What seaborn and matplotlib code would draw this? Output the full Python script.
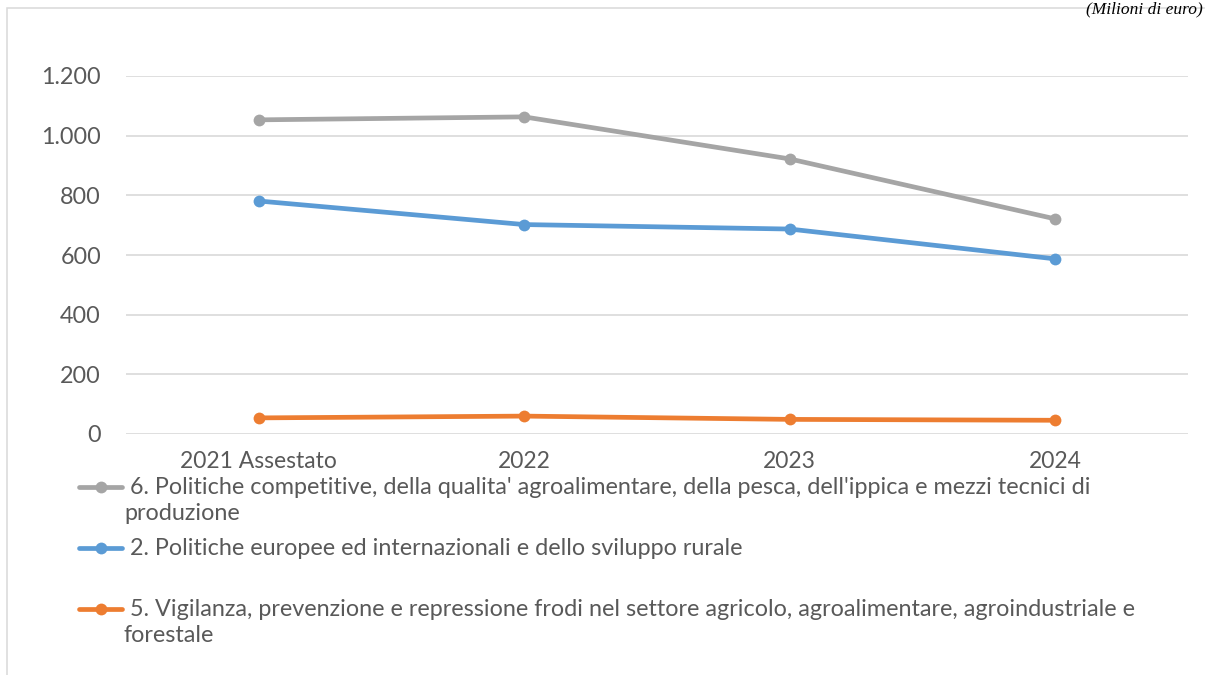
import matplotlib
matplotlib.use("Agg")
import matplotlib.pyplot as plt
import seaborn as sns
import pandas as pd
from matplotlib.lines import Line2D
from matplotlib.patches import Rectangle

# data (milioni di euro)
years = ["2021 Assestato", "2022", "2023", "2024"]
competitive = [1053, 1063, 922, 721]
europee = [781, 702, 687, 587]
vigilanza = [54, 60, 49, 46]

labels = [
    " 6. Politiche competitive, della qualita' agroalimentare, della pesca, dell'ippica e mezzi tecnici di\nproduzione",
    " 2. Politiche europee ed internazionali e dello sviluppo rurale",
    " 5. Vigilanza, prevenzione e repressione frodi nel settore agricolo, agroalimentare, agroindustriale e\nforestale",
]
colors = ["#A5A5A5", "#5B9BD5", "#ED7D31"]
yticks = [0, 200, 400, 600, 800, 1000, 1200]

df = pd.DataFrame({"anno": years * 3,
                   "valore": competitive + europee + vigilanza,
                   "serie": [labels[0]] * 4 + [labels[1]] * 4 + [labels[2]] * 4})

sns.set_theme(style="white")
plt.rcParams["font.family"] = ["Lato", "DejaVu Sans"]
text_col = "#595959"
fs = 16.8

W, H = 1205, 675
fig = plt.figure(figsize=(W / 100, H / 100), dpi=100)
ax = fig.add_axes([126 / W, 1 - 434 / H, (1188 - 126) / W, (434 - 76) / H])

sns.lineplot(data=df, x="anno", y="valore", hue="serie", palette=colors,
             hue_order=labels, marker="o", markersize=8.5, markeredgewidth=0,
             linewidth=3.4, sort=False, legend=False, ax=ax, clip_on=False)

ax.set_xlim(-0.5, 3.5)
ax.set_ylim(0, 1200)
ax.set_yticks(yticks)
ax.set_yticklabels([f"{v:,}".replace(",", ".") for v in yticks])
ax.yaxis.grid(True, color="#D9D9D9", linewidth=1.2)
ax.set_axisbelow(True)
for s in ax.spines.values():
    s.set_visible(False)
ax.tick_params(axis="y", length=0, pad=18, labelsize=fs, labelcolor=text_col)
ax.tick_params(axis="x", length=0, pad=12, labelsize=16.5, labelcolor=text_col)
ax.set_xlabel("")
ax.set_ylabel("")

# chart frame
fig.add_artist(Rectangle((7 / W, -0.1), 1.2, 1.1 - 8 / H, transform=fig.transFigure,
                         fill=False, edgecolor="#D9D9D9", linewidth=1.1))

fig.text(1203 / W, 1 - 1 / H, "(Milioni di euro)", family="Liberation Serif",
         style="italic", fontsize=12.5, color="black", va="top", ha="right")

# legend drawn by hand so the marker sits on the first text line
legend_y = [487, 548, 609]
for lab, col, yy in zip(labels, colors, legend_y):
    yf = 1 - yy / H
    fig.add_artist(Line2D([79 / W, 122 / W], [yf, yf], transform=fig.transFigure,
                          color=col, linewidth=3.4))
    fig.add_artist(Line2D([101 / W], [yf], transform=fig.transFigure, color=col,
                          marker="o", markersize=8.5, markeredgewidth=0))
    fig.text(124 / W, yf + 10 / H, lab, fontsize=fs, color=text_col, va="top",
             ha="left", linespacing=1.3)

fig.savefig("out.png", dpi=100)
